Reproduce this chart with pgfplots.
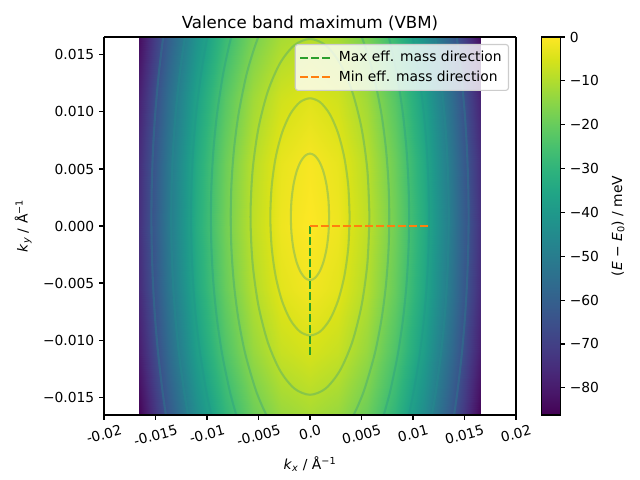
\documentclass[border=0pt]{standalone}
\usepackage{fontspec}
\setmainfont{DejaVu Sans}
\usepackage{graphicx}
\usepackage{pgfplots}
\pgfplotsset{compat=1.18}
\definecolor{tabgreen}{RGB}{44,160,44}
\definecolor{taborange}{RGB}{255,127,14}
\definecolor{clc}{RGB}{33,145,140}
\pgfplotsset{cline/.style={forget plot, smooth, line width=1.5pt, color=clc, opacity=0.3}}
\begin{document}
\begin{tikzpicture}
\useasboundingbox (0,0) rectangle (462.53pt,346.90pt);
\begin{axis}[
  view={0}{90},
  at={(75.16pt,46.98pt)}, anchor=south west,
  scale only axis, width=297.75pt, height=273.18pt,
  xmin=-0.02, xmax=0.02, ymin=-0.01657, ymax=0.01657,
  scaled ticks=false,
  xtick={-0.02,-0.015,-0.01,-0.005,0,0.005,0.01,0.015,0.02},
  xticklabels={\rotatebox{15}{-0.02},\rotatebox{15}{-0.015},\rotatebox{15}{-0.01},\rotatebox{15}{-0.005},\rotatebox{15}{0.0},\rotatebox{15}{0.005},\rotatebox{15}{0.01},\rotatebox{15}{0.015},\rotatebox{15}{0.02}},
  ytick={-0.015,-0.01,-0.005,0,0.005,0.01,0.015},
  yticklabels={−0.015,−0.010,−0.005,0.000,0.005,0.010,0.015},
  tick align=outside, major tick length=3.5pt,
  xtick pos=left, ytick pos=left,
  axis line style={line width=0.8pt},
  tick style={line width=0.8pt, black},
  ticklabel style={font=\fontsize{10}{12}\selectfont},
  colormap/viridis,
  point meta min=-86.2, point meta max=0,
  title={Valence band maximum (VBM)},
  title style={font=\fontsize{12}{14.4}\selectfont, at={(axis description cs:0.5,1.0)}, anchor=base},
  xlabel={\textit{k}\textsubscript{\textit{x}} / Å\textsuperscript{−1}},
  xlabel style={font=\fontsize{10}{12}\selectfont, at={(axis description cs:0.5,-0.1296)}, anchor=center},
  ylabel={\textit{k}\textsubscript{\textit{y}} / Å\textsuperscript{−1}},
  ylabel style={font=\fontsize{10}{12}\selectfont, at={(axis description cs:-0.1959,0.5)}, anchor=center},
  legend image code/.code={\draw[#1] (0pt,0pt) -- (21pt,0pt); \path (25pt,0pt);},
  legend cell align=left,
  legend style={at={(1,1)}, anchor=north east, xshift=-5pt, yshift=-5pt,
    draw=black!20, line width=0.8pt, fill=white, fill opacity=0.8, draw opacity=1, text opacity=1,
    rounded corners=2pt, font=\fontsize{10}{12}\selectfont, row sep=1pt, inner sep=3pt},
  colorbar,
  colorbar style={
    at={(parent axis.north east)}, anchor=north west, xshift=9.6pt,
    scale only axis, width=13.73pt, height=273.18pt,
    ytick={-80,-70,-60,-50,-40,-30,-20,-10,0},
    yticklabels={−80,−70,−60,−50,−40,−30,−20,−10,0},
    ytick pos=right, yticklabel pos=right,
    tick align=outside, major tick length=3.5pt,
    tick style={line width=0.8pt, black},
    axis line style={line width=0.8pt},
    ticklabel style={font=\fontsize{10}{12}\selectfont},
    ylabel={(\textit{E} − \textit{E}\textsubscript{0}) / meV},
    ylabel style={font=\fontsize{10}{12}\selectfont, at={(axis description cs:4.05,0.5)}, anchor=center},
  },
]
\addplot3[surf, shader=interp, forget plot, mesh/cols=13] table {
x y z
-0.0166 -0.0166 -85.60
-0.013833 -0.0166 -62.87
-0.011067 -0.0166 -44.27
-0.0083 -0.0166 -29.80
-0.005533 -0.0166 -19.47
-0.002767 -0.0166 -13.27
0 -0.0166 -11.20
0.002767 -0.0166 -13.27
0.005533 -0.0166 -19.47
0.0083 -0.0166 -29.80
0.011067 -0.0166 -44.27
0.013833 -0.0166 -62.87
0.0166 -0.0166 -85.60
-0.0166 -0.011067 -79.61
-0.013833 -0.011067 -56.88
-0.011067 -0.011067 -38.28
-0.0083 -0.011067 -23.81
-0.005533 -0.011067 -13.48
-0.002767 -0.011067 -7.28
0 -0.011067 -5.21
0.002767 -0.011067 -7.28
0.005533 -0.011067 -13.48
0.0083 -0.011067 -23.81
0.011067 -0.011067 -38.28
0.013833 -0.011067 -56.88
0.0166 -0.011067 -79.61
-0.0166 -0.005533 -75.88
-0.013833 -0.005533 -53.15
-0.011067 -0.005533 -34.55
-0.0083 -0.005533 -20.08
-0.005533 -0.005533 -9.75
-0.002767 -0.005533 -3.55
0 -0.005533 -1.48
0.002767 -0.005533 -3.55
0.005533 -0.005533 -9.75
0.0083 -0.005533 -20.08
0.011067 -0.005533 -34.55
0.013833 -0.005533 -53.15
0.0166 -0.005533 -75.88
-0.0166 0 -74.42
-0.013833 0 -51.69
-0.011067 0 -33.09
-0.0083 0 -18.62
-0.005533 0 -8.29
-0.002767 0 -2.09
0 0 -0.02
0.002767 0 -2.09
0.005533 0 -8.29
0.0083 0 -18.62
0.011067 0 -33.09
0.013833 0 -51.69
0.0166 0 -74.42
-0.0166 0.005533 -75.23
-0.013833 0.005533 -52.50
-0.011067 0.005533 -33.90
-0.0083 0.005533 -19.43
-0.005533 0.005533 -9.10
-0.002767 0.005533 -2.90
0 0.005533 -0.83
0.002767 0.005533 -2.90
0.005533 0.005533 -9.10
0.0083 0.005533 -19.43
0.011067 0.005533 -33.90
0.013833 0.005533 -52.50
0.0166 0.005533 -75.23
-0.0166 0.011067 -78.30
-0.013833 0.011067 -55.57
-0.011067 0.011067 -36.97
-0.0083 0.011067 -22.50
-0.005533 0.011067 -12.17
-0.002767 0.011067 -5.97
0 0.011067 -3.90
0.002767 0.011067 -5.97
0.005533 0.011067 -12.17
0.0083 0.011067 -22.50
0.011067 0.011067 -36.97
0.013833 0.011067 -55.57
0.0166 0.011067 -78.30
-0.0166 0.0166 -83.64
-0.013833 0.0166 -60.91
-0.011067 0.0166 -42.31
-0.0083 0.0166 -27.84
-0.005533 0.0166 -17.51
-0.002767 0.0166 -11.31
0 0.0166 -9.24
0.002767 0.0166 -11.31
0.005533 0.0166 -17.51
0.0083 0.0166 -27.84
0.011067 0.0166 -42.31
0.013833 0.0166 -60.91
0.0166 0.0166 -83.64
};
% contour lines (E = -1, -4, -9 meV: closed ellipses)
\addplot3[cline] coordinates {
(0.00186,0.0008,0) (0.0017966,0.0022365,0) (0.0016108,0.003575,0) (0.0013152,0.0047245,0)
(0.00093,0.0056065,0) (0.0004814,0.0061609,0) (0,0.00635,0) (-0.0004814,0.0061609,0)
(-0.00093,0.0056065,0) (-0.0013152,0.0047245,0) (-0.0016108,0.003575,0) (-0.0017966,0.0022365,0)
(-0.00186,0.0008,0) (-0.0017966,-0.0006365,0) (-0.0016108,-0.001975,0) (-0.0013152,-0.0031245,0)
(-0.00093,-0.0040065,0) (-0.0004814,-0.0045609,0) (0,-0.00475,0) (0.0004814,-0.0045609,0)
(0.00093,-0.0040065,0) (0.0013152,-0.0031245,0) (0.0016108,-0.001975,0) (0.0017966,-0.0006365,0)
(0.00186,0.0008,0)};
\addplot3[cline] coordinates {
(0.003849,0.0008,0) (0.0037178,0.0034911,0) (0.0033334,0.0059988,0) (0.0027217,0.0081522,0)
(0.0019245,0.0098046,0) (0.0009962,0.0108434,0) (0,0.0111976,0) (-0.0009962,0.0108434,0)
(-0.0019245,0.0098046,0) (-0.0027217,0.0081522,0) (-0.0033334,0.0059988,0) (-0.0037178,0.0034911,0)
(-0.003849,0.0008,0) (-0.0037178,-0.0018911,0) (-0.0033334,-0.0043988,0) (-0.0027217,-0.0065522,0)
(-0.0019245,-0.0082046,0) (-0.0009962,-0.0092434,0) (0,-0.0095976,0) (0.0009962,-0.0092434,0)
(0.0019245,-0.0082046,0) (0.0027217,-0.0065522,0) (0.0033334,-0.0043988,0) (0.0037178,-0.0018911,0)
(0.003849,0.0008,0)};
\addplot3[cline] coordinates {
(0.0057735,0.0008,0) (0.0055768,0.0048367,0) (0.0050000,0.0085982,0) (0.0040825,0.0118284,0)
(0.0028868,0.0143069,0) (0.0014943,0.0158651,0) (0,0.0163964,0) (-0.0014943,0.0158651,0)
(-0.0028868,0.0143069,0) (-0.0040825,0.0118284,0) (-0.0050000,0.0085982,0) (-0.0055768,0.0048367,0)
(-0.0057735,0.0008,0) (-0.0055768,-0.0032367,0) (-0.0050000,-0.0069982,0) (-0.0040825,-0.0102284,0)
(-0.0028868,-0.0127069,0) (-0.0014943,-0.0142651,0) (0,-0.0147964,0) (0.0014943,-0.0142651,0)
(0.0028868,-0.0127069,0) (0.0040825,-0.0102284,0) (0.0050000,-0.0069982,0) (0.0055768,-0.0032367,0)
(0.0057735,0.0008,0)};
% contour lines E = -16, -25, -36, -49, -64 meV (arcs cut by the plot range)
\addplot3[cline] coordinates {
(0.004215,-0.0166,0) (0.004685,-0.0157,0) (0.005332,-0.0142,0) (0.006287,-0.0112,0) (0.006940,-0.0082,0)
(0.007371,-0.0052,0) (0.007618,-0.0022,0) (0.007698,0.0008,0) (0.007618,0.0038,0) (0.007371,0.0068,0)
(0.006940,0.0098,0) (0.006287,0.0128,0) (0.005855,0.0143,0) (0.005332,0.0158,0) (0.005005,0.0166,0)};
\addplot3[cline] coordinates {
(-0.004215,-0.0166,0) (-0.004685,-0.0157,0) (-0.005332,-0.0142,0) (-0.006287,-0.0112,0) (-0.006940,-0.0082,0)
(-0.007371,-0.0052,0) (-0.007618,-0.0022,0) (-0.007698,0.0008,0) (-0.007618,0.0038,0) (-0.007371,0.0068,0)
(-0.006940,0.0098,0) (-0.006287,0.0128,0) (-0.005855,0.0143,0) (-0.005332,0.0158,0) (-0.005005,0.0166,0)};
\addplot3[cline] coordinates {
(0.007149,-0.0166,0) (0.007435,-0.0157,0) (0.007859,-0.0142,0) (0.008536,-0.0112,0) (0.009027,-0.0082,0)
(0.009363,-0.0052,0) (0.009558,-0.0022,0) (0.009623,0.0008,0) (0.009558,0.0038,0) (0.009363,0.0068,0)
(0.009027,0.0098,0) (0.008536,0.0128,0) (0.008223,0.0143,0) (0.007859,0.0158,0) (0.007641,0.0166,0)};
\addplot3[cline] coordinates {
(-0.007149,-0.0166,0) (-0.007435,-0.0157,0) (-0.007859,-0.0142,0) (-0.008536,-0.0112,0) (-0.009027,-0.0082,0)
(-0.009363,-0.0052,0) (-0.009558,-0.0022,0) (-0.009623,0.0008,0) (-0.009558,0.0038,0) (-0.009363,0.0068,0)
(-0.009027,0.0098,0) (-0.008536,0.0128,0) (-0.008223,0.0143,0) (-0.007859,0.0158,0) (-0.007641,0.0166,0)};
\addplot3[cline] coordinates {
(0.009584,-0.0166,0) (0.009799,-0.0157,0) (0.010124,-0.0142,0) (0.010658,-0.0112,0) (0.011056,-0.0082,0)
(0.011331,-0.0052,0) (0.011493,-0.0022,0) (0.011547,0.0008,0) (0.011493,0.0038,0) (0.011331,0.0068,0)
(0.011056,0.0098,0) (0.010658,0.0128,0) (0.010410,0.0143,0) (0.010124,0.0158,0) (0.009956,0.0166,0)};
\addplot3[cline] coordinates {
(-0.009584,-0.0166,0) (-0.009799,-0.0157,0) (-0.010124,-0.0142,0) (-0.010658,-0.0112,0) (-0.011056,-0.0082,0)
(-0.011331,-0.0052,0) (-0.011493,-0.0022,0) (-0.011547,0.0008,0) (-0.011493,0.0038,0) (-0.011331,0.0068,0)
(-0.011056,0.0098,0) (-0.010658,0.0128,0) (-0.010410,0.0143,0) (-0.010124,0.0158,0) (-0.009956,0.0166,0)};
\addplot3[cline] coordinates {
(0.011832,-0.0166,0) (0.012007,-0.0157,0) (0.012274,-0.0142,0) (0.012718,-0.0112,0) (0.013053,-0.0082,0)
(0.013287,-0.0052,0) (0.013426,-0.0022,0) (0.013472,0.0008,0) (0.013426,0.0038,0) (0.013287,0.0068,0)
(0.013053,0.0098,0) (0.012718,0.0128,0) (0.012510,0.0143,0) (0.012274,0.0158,0) (0.012136,0.0166,0)};
\addplot3[cline] coordinates {
(-0.011832,-0.0166,0) (-0.012007,-0.0157,0) (-0.012274,-0.0142,0) (-0.012718,-0.0112,0) (-0.013053,-0.0082,0)
(-0.013287,-0.0052,0) (-0.013426,-0.0022,0) (-0.013472,0.0008,0) (-0.013426,0.0038,0) (-0.013287,0.0068,0)
(-0.013053,0.0098,0) (-0.012718,0.0128,0) (-0.012510,0.0143,0) (-0.012274,0.0158,0) (-0.012136,0.0166,0)};
\addplot3[cline] coordinates {
(0.013984,-0.0166,0) (0.014133,-0.0157,0) (0.014360,-0.0142,0) (0.014741,-0.0112,0) (0.015031,-0.0082,0)
(0.015235,-0.0052,0) (0.015356,-0.0022,0) (0.015396,0.0008,0) (0.015356,0.0038,0) (0.015235,0.0068,0)
(0.015031,0.0098,0) (0.014741,0.0128,0) (0.014562,0.0143,0) (0.014360,0.0158,0) (0.014242,0.0166,0)};
\addplot3[cline] coordinates {
(-0.013984,-0.0166,0) (-0.014133,-0.0157,0) (-0.014360,-0.0142,0) (-0.014741,-0.0112,0) (-0.015031,-0.0082,0)
(-0.015235,-0.0052,0) (-0.015356,-0.0022,0) (-0.015396,0.0008,0) (-0.015356,0.0038,0) (-0.015235,0.0068,0)
(-0.015031,0.0098,0) (-0.014741,0.0128,0) (-0.014562,0.0143,0) (-0.014360,0.0158,0) (-0.014242,0.0166,0)};
% effective-mass directions
\addplot3[tabgreen, line width=1.5pt, dash pattern=on 5.55pt off 2.4pt] coordinates {(0,0,0) (0,-0.0115,0)};
\addlegendentry{Max eff. mass direction}
\addplot3[taborange, line width=1.5pt, dash pattern=on 5.55pt off 2.4pt] coordinates {(0,0,0) (0.0115,0,0)};
\addlegendentry{Min eff. mass direction}
\end{axis}
\end{tikzpicture}
\end{document}
